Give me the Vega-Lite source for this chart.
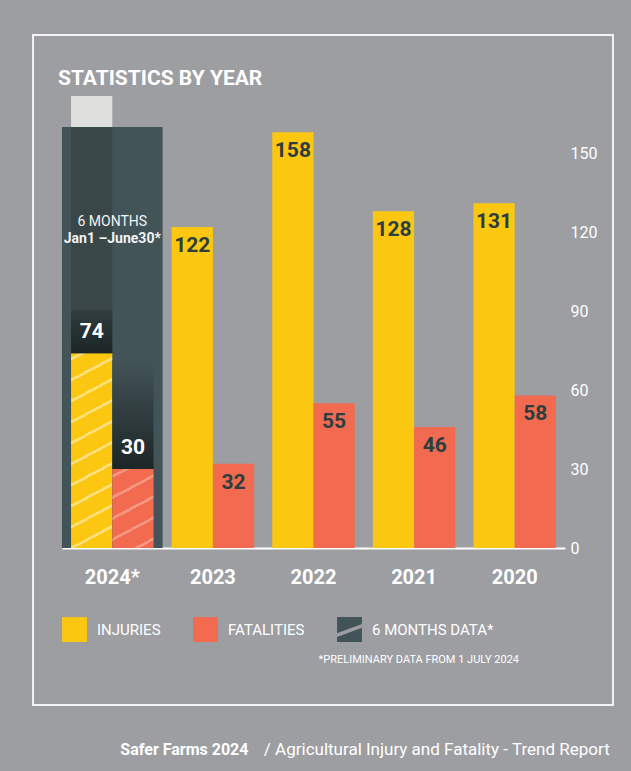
{
  "$schema": "https://vega.github.io/schema/vega-lite/v6.json",
  "width": 503,
  "height": 421,
  "autosize": {"type": "none"},
  "padding": {"left": 62, "top": 127, "right": 66, "bottom": 223},
  "background": "#9d9ea2",
  "title": {"text": "STATISTICS BY YEAR", "anchor": "start", "frame": "group", "color": "#ffffff", "font": "Roboto", "fontSize": 21, "fontWeight": "bold", "offset": -55, "dx": -4},
  "config": {"view": {"stroke": null}},
  "datasets": {
    "stats": [
      {"year": "2024", "type": "Injuries", "count": 74},
      {"year": "2024", "type": "Fatalities", "count": 30},
      {"year": "2023", "type": "Injuries", "count": 122},
      {"year": "2023", "type": "Fatalities", "count": 32},
      {"year": "2022", "type": "Injuries", "count": 158},
      {"year": "2022", "type": "Fatalities", "count": 55},
      {"year": "2021", "type": "Injuries", "count": 128},
      {"year": "2021", "type": "Fatalities", "count": 46},
      {"year": "2020", "type": "Injuries", "count": 131},
      {"year": "2020", "type": "Fatalities", "count": 58}
    ]
  },
  "data": {"name": "stats"},
  "encoding": {
    "x": {
      "field": "year", "type": "nominal",
      "sort": ["2024", "2023", "2022", "2021", "2020"],
      "scale": {"paddingInner": 0.18, "paddingOuter": 0.09},
      "axis": {"title": null, "orient": "bottom", "labelAngle": 0, "labelColor": "#ffffff", "labelFont": "Roboto", "labelFontSize": 20, "labelFontWeight": "bold", "labelPadding": 19, "ticks": false, "domainColor": "#ffffff", "domainWidth": 2, "labelExpr": "datum.value === '2024' ? '2024*' : datum.value"}
    },
    "y": {
      "field": "count", "type": "quantitative",
      "scale": {"domain": [0, 160], "nice": false},
      "axis": {"orient": "right", "values": [0, 30, 60, 90, 120, 150], "title": null, "domain": false, "ticks": false, "grid": false, "labelColor": "#ffffff", "labelFont": "Roboto", "labelFontSize": 16, "labelPadding": 5}
    }
  },
  "layer": [
    {
      "transform": [{"filter": "datum.year === '2024' && datum.type === 'Injuries'"}],
      "mark": {"type": "bar", "width": {"band": 1.22}},
      "encoding": {
        "y": {"datum": 0, "type": "quantitative"},
        "y2": {"datum": 160},
        "color": {"datum": "6 months data*", "type": "nominal"}
      }
    },
    {
      "transform": [{"filter": "datum.year === '2024' && datum.type === 'Injuries'"}],
      "mark": {"type": "bar", "color": "#394749"},
      "encoding": {
        "xOffset": {"field": "type", "type": "nominal", "sort": ["Injuries", "Fatalities"], "scale": {"domain": ["Injuries", "Fatalities"], "paddingInner": 0, "paddingOuter": 0}},
        "y": {"datum": 0, "type": "quantitative"},
        "y2": {"datum": 160}
      }
    },
    {
      "transform": [{"filter": "datum.year === '2024' && datum.type === 'Injuries'"}],
      "mark": {"type": "bar", "color": "#dfdfdd"},
      "encoding": {
        "xOffset": {"field": "type", "type": "nominal", "sort": ["Injuries", "Fatalities"]},
        "y": {"datum": 160, "type": "quantitative"},
        "y2": {"datum": 171.8}
      }
    },
    {
      "transform": [{"filter": "datum.year !== '2024'"}],
      "mark": {"type": "bar"},
      "encoding": {
        "xOffset": {"field": "type", "type": "nominal", "sort": ["Injuries", "Fatalities"]},
        "color": {
          "field": "type", "type": "nominal",
          "scale": {"domain": ["Injuries", "Fatalities", "6 months data*"], "range": ["#fcc710", "#f26b50", "#435458"]},
          "legend": {
            "orient": "bottom", "direction": "horizontal",
            "title": "*PRELIMINARY DATA FROM 1 JULY 2024",
            "titleOrient": "bottom", "titleAnchor": "end", "titleColor": "#ffffff", "titleFont": "Roboto", "titleFontSize": 11, "titleFontWeight": "normal", "titlePadding": 12, "titleLimit": 500,
            "symbolType": "square", "symbolSize": 620, "symbolStrokeWidth": 0, "symbolOpacity": 1,
            "labelColor": "#ffffff", "labelFont": "Roboto", "labelFontSize": 15, "labelOffset": 10, "columnPadding": 32, "offset": 30,
            "labelExpr": "upper(datum.label)",
            "encode": {
              "symbols": {"update": {
                "shape": {"signal": "datum.value === '6 months data*' ? 'M-1,-1H1V-0.45L-1,0.3Z M-1,0.6L1,-0.15V1H-1Z' : 'square'"},
                "fill": {"signal": "datum.value === '6 months data*' ? '#56686c' : (datum.value === 'Injuries' ? '#fcc710' : '#f26b50')"}
              }},
              "title": {"update": {"dx": {"value": 26}}}
            }
          }
        }
      }
    },
    {
      "transform": [{"filter": "datum.year === '2024' && datum.type === 'Injuries'"}],
      "mark": {"type": "bar", "fill": {"gradient": "linear", "x1": 0, "y1": 0, "x2": 0.1234, "y2": 1.0985, "stops": [
        {"offset": 0, "color": "#fcc710"},
        {"offset": 0.02, "color": "#fcc710"}, {"offset": 0.02, "color": "#fde07c"}, {"offset": 0.034, "color": "#fde07c"}, {"offset": 0.034, "color": "#fcc710"},
        {"offset": 0.117, "color": "#fcc710"}, {"offset": 0.117, "color": "#fde07c"}, {"offset": 0.131, "color": "#fde07c"}, {"offset": 0.131, "color": "#fcc710"},
        {"offset": 0.214, "color": "#fcc710"}, {"offset": 0.214, "color": "#fde07c"}, {"offset": 0.228, "color": "#fde07c"}, {"offset": 0.228, "color": "#fcc710"},
        {"offset": 0.311, "color": "#fcc710"}, {"offset": 0.311, "color": "#fde07c"}, {"offset": 0.325, "color": "#fde07c"}, {"offset": 0.325, "color": "#fcc710"},
        {"offset": 0.408, "color": "#fcc710"}, {"offset": 0.408, "color": "#fde07c"}, {"offset": 0.422, "color": "#fde07c"}, {"offset": 0.422, "color": "#fcc710"},
        {"offset": 0.505, "color": "#fcc710"}, {"offset": 0.505, "color": "#fde07c"}, {"offset": 0.519, "color": "#fde07c"}, {"offset": 0.519, "color": "#fcc710"},
        {"offset": 0.602, "color": "#fcc710"}, {"offset": 0.602, "color": "#fde07c"}, {"offset": 0.616, "color": "#fde07c"}, {"offset": 0.616, "color": "#fcc710"},
        {"offset": 0.699, "color": "#fcc710"}, {"offset": 0.699, "color": "#fde07c"}, {"offset": 0.713, "color": "#fde07c"}, {"offset": 0.713, "color": "#fcc710"},
        {"offset": 0.796, "color": "#fcc710"}, {"offset": 0.796, "color": "#fde07c"}, {"offset": 0.81, "color": "#fde07c"}, {"offset": 0.81, "color": "#fcc710"},
        {"offset": 0.893, "color": "#fcc710"}, {"offset": 0.893, "color": "#fde07c"}, {"offset": 0.907, "color": "#fde07c"}, {"offset": 0.907, "color": "#fcc710"},
        {"offset": 1, "color": "#fcc710"}
      ]}},
      "encoding": {
        "xOffset": {"field": "type", "type": "nominal", "sort": ["Injuries", "Fatalities"]}
      }
    },
    {
      "transform": [{"filter": "datum.year === '2024' && datum.type === 'Fatalities'"}],
      "mark": {"type": "bar", "fill": {"gradient": "linear", "x1": 0, "y1": 0, "x2": 0.3285, "y2": 1.186, "stops": [
        {"offset": 0, "color": "#f26b50"},
        {"offset": 0.06, "color": "#f26b50"}, {"offset": 0.06, "color": "#f59681"}, {"offset": 0.09, "color": "#f59681"}, {"offset": 0.09, "color": "#f26b50"},
        {"offset": 0.2685, "color": "#f26b50"}, {"offset": 0.2685, "color": "#f59681"}, {"offset": 0.2985, "color": "#f59681"}, {"offset": 0.2985, "color": "#f26b50"},
        {"offset": 0.477, "color": "#f26b50"}, {"offset": 0.477, "color": "#f59681"}, {"offset": 0.507, "color": "#f59681"}, {"offset": 0.507, "color": "#f26b50"},
        {"offset": 0.6855, "color": "#f26b50"}, {"offset": 0.6855, "color": "#f59681"}, {"offset": 0.7155, "color": "#f59681"}, {"offset": 0.7155, "color": "#f26b50"},
        {"offset": 0.894, "color": "#f26b50"}, {"offset": 0.894, "color": "#f59681"}, {"offset": 0.924, "color": "#f59681"}, {"offset": 0.924, "color": "#f26b50"},
        {"offset": 1, "color": "#f26b50"}
      ]}},
      "encoding": {
        "xOffset": {"field": "type", "type": "nominal", "sort": ["Injuries", "Fatalities"]}
      }
    },
    {
      "transform": [{"filter": "datum.year === '2024' && datum.type === 'Injuries'"}],
      "mark": {"type": "bar", "yOffset": -43, "fill": {"gradient": "linear", "x1": 0, "y1": 0, "x2": 0, "y2": 1, "stops": [{"offset": 0, "color": "#323d3f"}, {"offset": 1, "color": "#1c2425"}]}},
      "encoding": {
        "xOffset": {"field": "type", "type": "nominal", "sort": ["Injuries", "Fatalities"]},
        "y2": {"field": "count"}
      }
    },
    {
      "transform": [{"filter": "datum.year === '2024' && datum.type === 'Fatalities'"}],
      "mark": {"type": "bar", "yOffset": -109, "fill": {"gradient": "linear", "x1": 0, "y1": 0, "x2": 0, "y2": 1, "stops": [{"offset": 0, "color": "#435458"}, {"offset": 1, "color": "#1d2526"}]}},
      "encoding": {
        "xOffset": {"field": "type", "type": "nominal", "sort": ["Injuries", "Fatalities"]},
        "y2": {"field": "count"}
      }
    },
    {
      "transform": [{"filter": "datum.year !== '2024'"}],
      "mark": {"type": "text", "dy": 19, "baseline": "middle", "font": "Roboto", "fontSize": 21, "fontWeight": "bold", "color": "#2c3e40"},
      "encoding": {
        "xOffset": {"field": "type", "type": "nominal", "sort": ["Injuries", "Fatalities"]},
        "text": {"field": "count", "type": "quantitative"}
      }
    },
    {
      "transform": [{"filter": "datum.year === '2024'"}],
      "mark": {"type": "text", "dy": -21, "baseline": "middle", "font": "Roboto", "fontSize": 21, "fontWeight": "bold", "color": "#ffffff"},
      "encoding": {
        "xOffset": {"field": "type", "type": "nominal", "sort": ["Injuries", "Fatalities"]},
        "text": {"field": "count", "type": "quantitative"}
      }
    },
    {
      "transform": [{"filter": "datum.year === '2024' && datum.type === 'Injuries'"}],
      "mark": {"type": "text", "baseline": "middle", "font": "Roboto", "fontSize": 14, "color": "#f2f2f2", "text": "6 MONTHS"},
      "encoding": {
        "y": {"datum": 124, "type": "quantitative"}
      }
    },
    {
      "transform": [{"filter": "datum.year === '2024' && datum.type === 'Injuries'"}],
      "mark": {"type": "text", "baseline": "middle", "font": "Roboto", "fontSize": 14, "fontWeight": "bold", "color": "#f2f2f2", "text": "Jan1 –June30*"},
      "encoding": {
        "y": {"datum": 117.4, "type": "quantitative"}
      }
    },
    {
      "transform": [{"filter": "datum.year === '2024' && datum.type === 'Injuries'"}],
      "mark": {"type": "text", "align": "left", "baseline": "middle", "dx": 8, "font": "Roboto", "fontSize": 16, "fontWeight": "bold", "color": "#ffffff", "text": "Safer Farms 2024"},
      "encoding": {
        "y": {"datum": -76.7, "type": "quantitative"}
      }
    },
    {
      "transform": [{"filter": "datum.year === '2020' && datum.type === 'Injuries'"}],
      "mark": {"type": "text", "align": "right", "baseline": "middle", "dx": 95, "font": "Roboto", "fontSize": 17, "color": "#ffffff", "text": "/ Agricultural Injury and Fatality - Trend Report"},
      "encoding": {
        "y": {"datum": -76.7, "type": "quantitative"}
      }
    },
    {
      "transform": [{"filter": "datum.year === '2022' && datum.type === 'Injuries'"}],
      "mark": {"type": "bar", "filled": false, "color": "#f4f4f4", "strokeWidth": 2, "width": {"band": 7.03}, "xOffset": 9.5},
      "encoding": {
        "y": {"datum": 194.96, "type": "quantitative"},
        "y2": {"datum": -59.67}
      }
    }
  ]
}
